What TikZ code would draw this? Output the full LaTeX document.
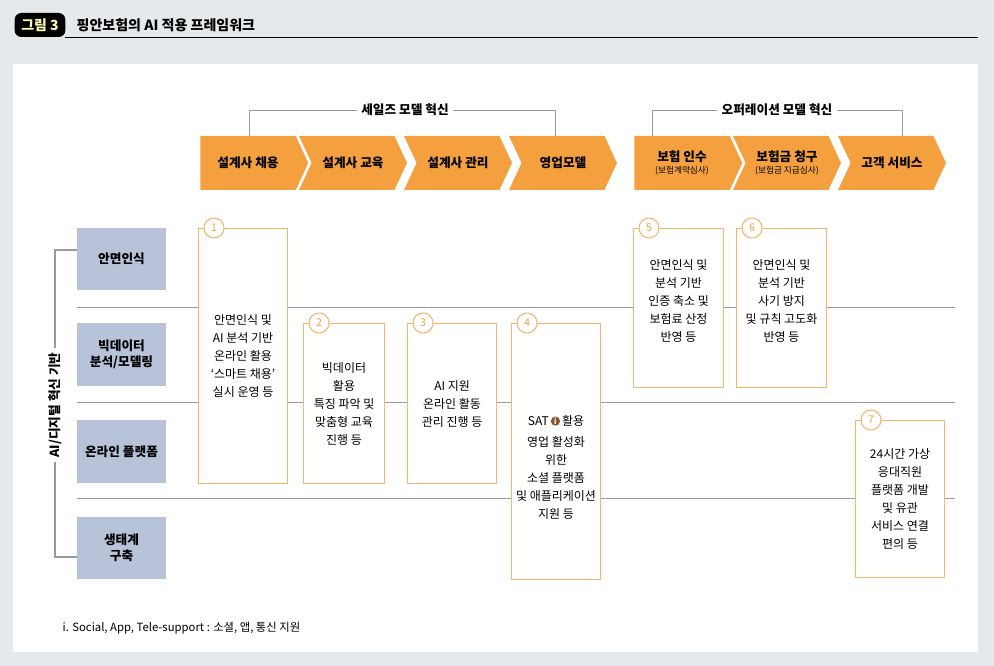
\documentclass[tikz,border=0pt]{standalone}
\usepackage{fontspec}
\setmainfont{Noto Sans CJK KR}
\usetikzlibrary{shapes.symbols}
\definecolor{bggrey}{HTML}{E5E9EC}
\definecolor{arrorange}{HTML}{F4A03E}
\definecolor{boxorange}{HTML}{F6B56E}
\definecolor{rowblue}{HTML}{B8C3D9}
\definecolor{linegrey}{HTML}{9A9A9A}
\tikzset{
  chev/.style={signal, signal to=east, signal from=west, signal pointer angle=130,
    fill=arrorange, minimum width=81pt, minimum height=40.5pt, inner sep=0pt,
    font=\fontsize{9.5}{11}\selectfont\bfseries},
  rowbox/.style={fill=rowblue, minimum width=67pt, align=center,
    font=\fontsize{9.5}{12}\selectfont\bfseries},
  stepbox/.style={draw=boxorange, fill=white, line width=0.8pt, anchor=north west,
    align=center, font=\fontsize{9}{13.5}\selectfont, inner sep=0pt},
  numcirc/.style={circle, draw=boxorange, fill=white, text=arrorange, line width=0.8pt,
    minimum size=15pt, inner sep=0pt, font=\fontsize{8}{8}\selectfont},
  guide/.style={draw=linegrey, line width=0.6pt},
}
\begin{document}
\begin{tikzpicture}[x=0.75pt,y=-0.75pt]
  \fill[bggrey] (0,0) rectangle (994,666);
  \useasboundingbox (0,0) rectangle (994,666);
  % title
  \node[fill=black, rounded corners=5pt, text=yellow!30, minimum width=38pt, minimum height=18pt,
    font=\fontsize{10.5}{12}\selectfont\bfseries] (tag) at (40,25) {그림 3};
  \node[anchor=west, font=\fontsize{10.5}{12}\selectfont\bfseries] (title) at (72,25) {핑안보험의 AI 적용 프레임워크};
  \draw[line width=0.6pt] (65,37) -- (978,37);
  \fill[white] (13,64) rectangle (978,652);

  % top brackets
  \node[font=\fontsize{9.5}{11}\selectfont\bfseries, fill=white] (sales) at (405,110) {세일즈 모델 혁신};
  \node[font=\fontsize{9.5}{11}\selectfont\bfseries, fill=white] (oper) at (777,110) {오퍼레이션 모델 혁신};
  \draw[guide] (249,136) |- (sales.west);
  \draw[guide] (555,136) |- (sales.east);
  \draw[guide] (652,136) |- (oper.west);
  \draw[guide] (902,136) |- (oper.east);

  % chevrons
  \node[chev, signal from=nowhere] (c1) at (248,163) {설계사 채용};
  \node[chev] (c2) at (353,163) {설계사 교육};
  \node[chev] (c3) at (458,163) {설계사 관리};
  \node[chev] (c4) at (563,163) {영업모델};
  \node[chev, signal from=nowhere, align=center] (c5) at (682,163) {보험 인수\\[-2pt]{\fontsize{6.5}{8}\selectfont\mdseries (보험계약심사)}};
  \node[chev, align=center] (c6) at (787,163) {보험금 청구\\[-2pt]{\fontsize{6.5}{8}\selectfont\mdseries (보험금 지급심사)}};
  \node[chev] (c7) at (892,163) {고객 서비스};

  % row guides
  \foreach \y in {307,402,498} \draw[guide] (77,\y) -- (955,\y);

  % row labels
  \node[rowbox, minimum height=47pt] (r1) at (121.5,259) {안면인식};
  \node[rowbox, minimum height=47pt] (r2) at (121.5,354.5) {빅데이터\\분석/모델링};
  \node[rowbox, minimum height=47pt] (r3) at (121.5,451.5) {온라인 플랫폼};
  \node[rowbox, minimum height=47pt] (r4) at (121.5,548) {생태계\\구축};
  \draw[guide, line width=0.8pt] (r1.west |- 0,250) -- (55,250) -- (55,557) -- (r4.west |- 0,557);
  \node[fill=white, rotate=90, font=\fontsize{9.5}{11}\selectfont\bfseries] (base) at (55,405) {AI/디지털 혁신 기반};

  % steps
  \node[stepbox, minimum width=66.75pt, minimum height=191.25pt] (s1) at (198,228) {};
  \node[align=center, font=\fontsize{9}{13.5}\selectfont] (t1) at (s1.center) {안면인식 및\\AI 분석 기반\\온라인 활용\\‘스마트 채용’\\실시 운영 등};
  \node[stepbox, minimum width=60.75pt, minimum height=120pt] (s2) at (303,323) {};
  \node[align=center, font=\fontsize{9}{13.5}\selectfont] (t2) at (s2.center) {빅데이터\\활용\\특징 파악 및\\맞춤형 교육\\진행 등};
  \node[stepbox, minimum width=66.75pt, minimum height=120pt] (s3) at (407,323) {};
  \node[align=center, font=\fontsize{9}{13.5}\selectfont] (t3) at (s3.center) {AI 지원\\온라인 활동\\관리 진행 등};
  \node[stepbox, minimum width=66.75pt, minimum height=192pt] (s4) at (511,323) {};
  \node[align=center, font=\fontsize{9}{13.5}\selectfont] (t4) at ([yshift=-12pt]s4.center) {SAT\,{\tikz[baseline=-3.5pt]\node[circle,fill=brown!70!black,text=white,inner sep=0.6pt,font=\fontsize{6}{6}\selectfont\bfseries]{i};}\,활용\\[2pt]영업 활성화\\위한\\소셜 플랫폼\\및 애플리케이션\\지원 등};
  \node[stepbox, minimum width=67.5pt, minimum height=119.25pt] (s5) at (633,228) {};
  \node[align=center, font=\fontsize{9}{13.5}\selectfont] (t5) at ([yshift=5pt]s5.center) {안면인식 및\\분석 기반\\인증 축소 및\\보험료 산정\\반영 등};
  \node[stepbox, minimum width=67.5pt, minimum height=119.25pt] (s6) at (736,228) {};
  \node[align=center, font=\fontsize{9}{13.5}\selectfont] (t6) at ([yshift=5pt]s6.center) {안면인식 및\\분석 기반\\사기 방지\\및 규칙 고도화\\반영 등};
  \node[stepbox, minimum width=66.75pt, minimum height=117.75pt] (s7) at (855,420) {};
  \node[align=center, font=\fontsize{9}{13.5}\selectfont] (t7) at (s7.center) {24시간 가상\\응대직원\\플랫폼 개발\\및 유관\\서비스 연결\\편의 등};

  % numbers
  \node[numcirc] (n1) at ([xshift=12pt]s1.north west) {1};
  \node[numcirc] (n2) at ([xshift=12pt]s2.north west) {2};
  \node[numcirc] (n3) at ([xshift=12pt]s3.north west) {3};
  \node[numcirc] (n4) at ([xshift=12pt]s4.north west) {4};
  \node[numcirc] (n5) at ([xshift=12pt]s5.north west) {5};
  \node[numcirc] (n6) at ([xshift=12pt]s6.north west) {6};
  \node[numcirc] (n7) at ([xshift=12pt]s7.north west) {7};

  % footnote
  \node[anchor=west, font=\fontsize{8.5}{10}\selectfont] (note) at (58,628) {i. Social, App, Tele-support : 소셜, 앱, 통신 지원};
\end{tikzpicture}
\end{document}
